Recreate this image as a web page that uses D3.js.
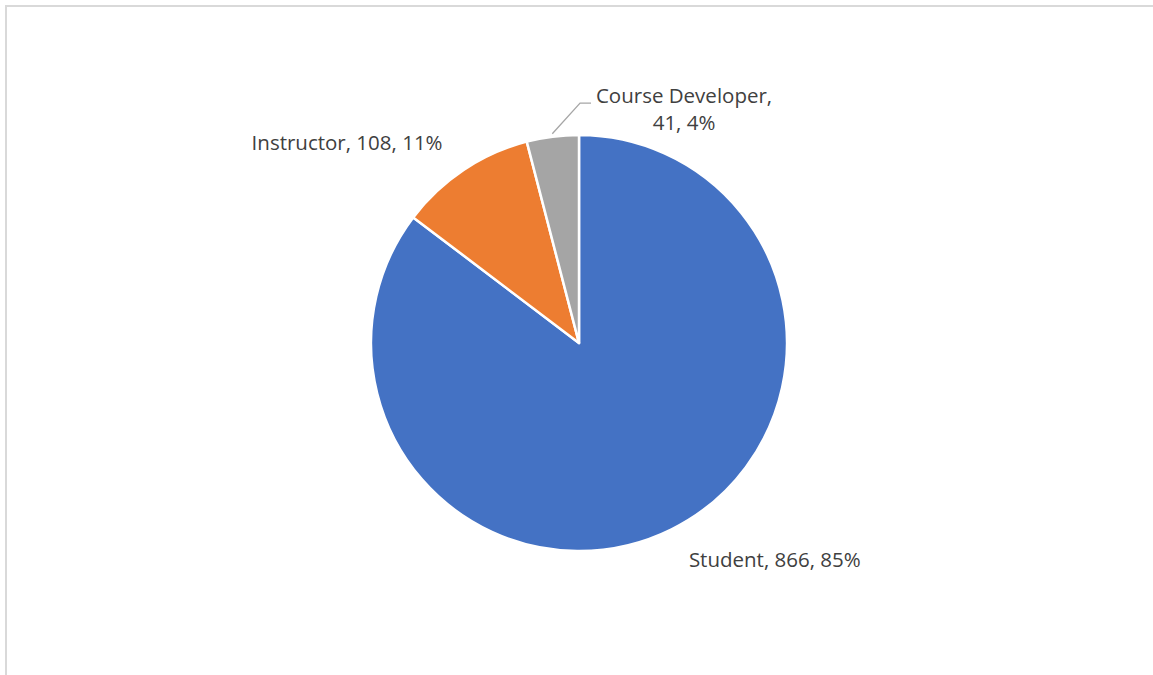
<!DOCTYPE html>
<html>
<head>
<meta charset="utf-8">
<script src="https://cdn.jsdelivr.net/npm/d3@7"></script>
<style>
  html, body { margin: 0; padding: 0; background: #fff; }
  svg { display: block; }
  text { font-family: "Open Sans", Lato, sans-serif; fill: #404040; }
</style>
</head>
<body>
<svg id="chart" width="1153" height="675"></svg>
<script>
// Respondent roles
const categories = ["Student", "Instructor", "Course Developer"];
const counts = [866, 108, 41];
const percentLabels = ["85%", "11%", "4%"];
const colors = ["#4472C4", "#ED7D31", "#A5A5A5"];

const width = 1153, height = 675;
const cx = 579, cy = 343, radius = 208;

const svg = d3.select("#chart");

// chart frame (top and left edges visible)
svg.append("line").attr("x1", 5).attr("x2", width).attr("y1", 6).attr("y2", 6)
  .attr("stroke", "#d9d9d9").attr("stroke-width", 2);
svg.append("line").attr("x1", 6).attr("x2", 6).attr("y1", 5).attr("y2", height)
  .attr("stroke", "#d9d9d9").attr("stroke-width", 2);

const data = categories.map((c, i) => ({ name: c, value: counts[i], pct: percentLabels[i], color: colors[i] }));

const pie = d3.pie().value(d => d.value).sort(null);
const arcs = pie(data);
const arc = d3.arc().innerRadius(0).outerRadius(radius);

const g = svg.append("g").attr("transform", `translate(${cx},${cy})`);

g.selectAll("path.slice")
  .data(arcs)
  .join("path")
  .attr("class", "slice")
  .attr("d", arc)
  .attr("fill", d => d.data.color)
  .attr("stroke", "#fff")
  .attr("stroke-width", 2.5)
  .attr("stroke-linejoin", "round");

// label placement: angle-based anchor plus per-slice offset
const labelArc = d3.arc().innerRadius(radius * 1.1).outerRadius(radius * 1.1);
const labelOffsets = {
  "Student": [94, 19],
  "Instructor": [-105, -3],
  "Course Developer": [134, -13]
};

const fontSize = 20.5;
arcs.forEach(d => {
  const [ax, ay] = labelArc.centroid(d);
  const [ox, oy] = labelOffsets[d.data.name];
  const lx = ax + ox, ly = ay + oy;
  const t = g.append("text")
    .attr("text-anchor", "middle")
    .attr("font-size", fontSize);
  if (d.data.name === "Course Developer") {
    t.append("tspan").attr("x", lx).attr("y", ly).text(`${d.data.name},`);
    t.append("tspan").attr("x", lx).attr("y", ly + 27).text(`${d.data.value}, ${d.data.pct}`);
    // leader line from slice edge to label
    const mid = (d.startAngle + d.endAngle) / 2;
    const ex = Math.sin(mid) * (radius + 3), ey = -Math.cos(mid) * (radius + 3);
    const bx = lx - 104, by = ly;
    g.append("polyline")
      .attr("points", `${ex},${ey} ${bx},${by} ${bx + 11},${by}`)
      .attr("fill", "none").attr("stroke", "#a6a6a6").attr("stroke-width", 1.3);
  } else {
    t.attr("x", lx).attr("y", ly).text(`${d.data.name}, ${d.data.value}, ${d.data.pct}`);
  }
});
</script>
</body>
</html>
